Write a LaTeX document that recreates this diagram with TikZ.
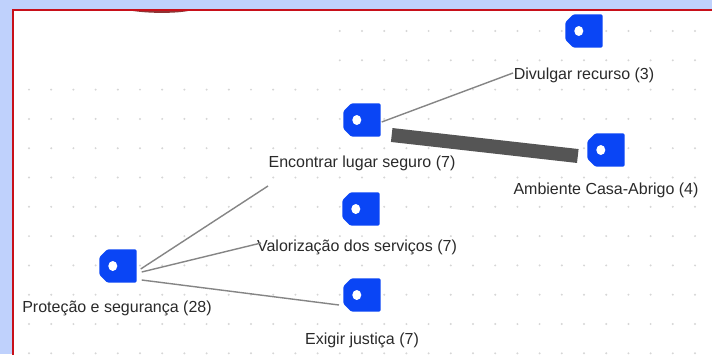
\documentclass[tikz,border=0pt]{standalone}
\usepackage{fontspec}
\setmainfont{Liberation Sans}
\definecolor{bgblue}{HTML}{BFD1FC}
\definecolor{framered}{HTML}{C8101A}
\definecolor{tagblue}{HTML}{0A45F5}
\definecolor{txtgray}{HTML}{2A2A2A}
\definecolor{edgegray}{HTML}{858585}
\definecolor{barggray}{HTML}{555555}
\definecolor{dotgray}{HTML}{D6D6D6}
\tikzset{
  tag/.style={rectangle, minimum width=37pt, minimum height=33pt, inner sep=0pt, draw=none},
  tagfill/.style={fill=tagblue, rounded corners=1.5pt},
  lbl/.style={inner sep=0pt, text=txtgray, font=\fontsize{16}{19}\selectfont},
  thin edge/.style={draw=edgegray, line width=1.4pt},
  thick edge/.style={draw=barggray, line width=14pt},
}
\begin{document}
\begin{tikzpicture}[x=1pt,y=-1pt]
\useasboundingbox (0,0) rectangle (712,354);
\fill[bgblue] (0,0) rectangle (712,354);
\fill[white] (12,9) rectangle (714,356);
\draw[framered, line width=2pt] (13,356) -- (13,10) -- (714,10);
\fill[red!45!black, opacity=0.8] (133,11) .. controls (150,13.5) and (175,13.5) .. (188,11) -- cycle;
% dot grid
\foreach \i in {0,...,31} {
  \foreach \j in {0,...,11} {
    \pgfmathsetmacro\xx{29+22.2*\i}
    \pgfmathsetmacro\yy{31+29.3*\j}
    \pgfmathparse{(\xx<330 && \yy<80) ? 0 : 1}
    \ifnum\pgfmathresult=1
      \fill[dotgray] (\xx,\yy) circle (1.1);
    \fi
  }
}
% icons
\node[tag] (div) at (584,31) {};
\node[tag] (enc) at (362,120) {};
\node[tag] (amb) at (606,150) {};
\node[tag] (val) at (361,209) {};
\node[tag] (pro) at (118,266) {};
\node[tag] (exi) at (362,295) {};
\foreach \n in {div,enc,amb,val,pro,exi} {
  \fill[tagfill] ([xshift=8pt]\n.north west) -- (\n.north east) -- (\n.south east)
     -- ([xshift=8pt]\n.south west) -- ([yshift=8pt]\n.south west)
     -- ([yshift=-8pt]\n.north west) -- cycle;
  \fill[white] ([xshift=13.5pt]\n.west) ellipse (4.5pt and 5pt);
}
% labels
\node[lbl] (ldiv) at (584,75) {Divulgar recurso (3)};
\node[lbl] (lenc) at (362,163) {Encontrar lugar seguro (7)};
\node[lbl] (lamb) at (606,190) {Ambiente Casa-Abrigo (4)};
\node[lbl] (lval) at (357,247) {Valorização dos serviços (7)};
\node[lbl] (lpro) at (117,308) {Proteção e segurança (28)};
\node[lbl] (lexi) at (362,340) {Exigir justiça (7)};
% edge end points
\coordinate (eDiv) at (513,73);
\coordinate (eEnc) at (268,186);
\coordinate (eVal) at (261,243);
\coordinate (eExi) at (339,305);
% edges
\draw[thin edge] ([xshift=1pt,yshift=-2pt]enc.east) -- (eDiv);
\draw[thick edge] ([xshift=11pt,yshift=-15pt]enc.east) -- ([xshift=-9.5pt,yshift=-6pt]amb.west);
\draw[thin edge] ([xshift=4pt,yshift=-3pt]pro.east) -- (eEnc);
\draw[thin edge] ([xshift=5pt,yshift=-6pt]pro.east) -- (eVal);
\draw[thin edge] ([xshift=5pt,yshift=-14pt]pro.east) -- (eExi);
\end{tikzpicture}
\end{document}
